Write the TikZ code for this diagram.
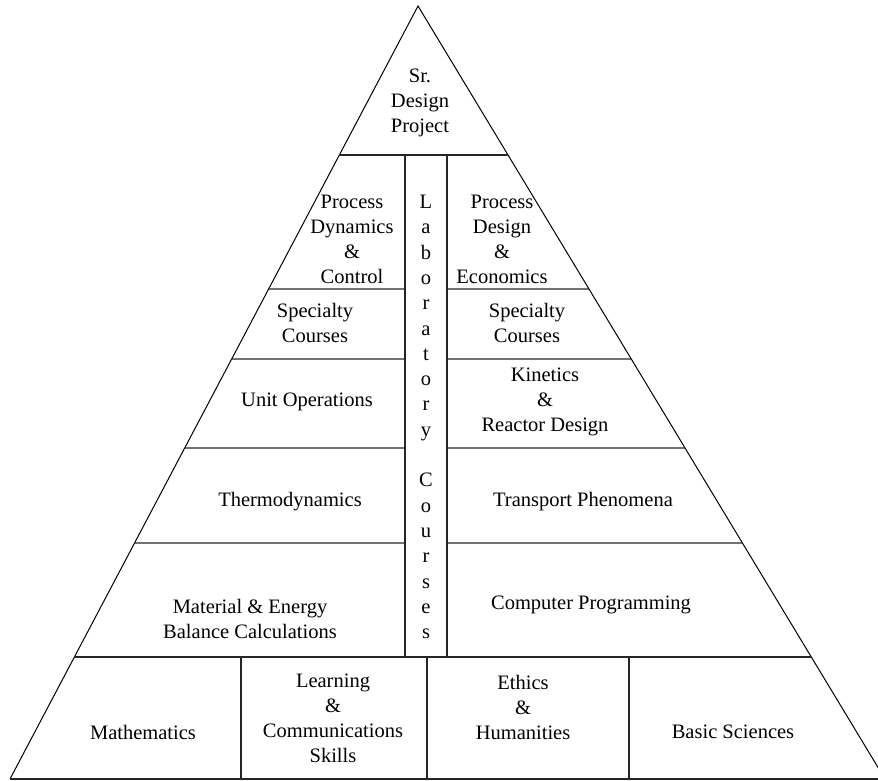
\documentclass[tikz,border=0pt]{standalone}
\usepackage{fontspec}
\setmainfont{Liberation Serif}
\usetikzlibrary{calc}

\begin{document}
\begin{tikzpicture}[
    x=1pt, y=-1pt,
    lbl/.style={align=center, inner sep=0pt, font=\fontsize{20.5}{25}\selectfont},
    rule/.style={line width=1.4pt, black!85},
    side/.style={line width=1pt, black},
]
\useasboundingbox (0,0) rectangle (878,781);
\coordinate (apex)  at (418,6);
\coordinate (baseL) at (10,779);
\coordinate (baseR) at (885,779);

% outline of the pyramid
\draw[side] (baseL) -- (apex) -- (baseR);
\draw[rule] (baseL) -- (baseR);

% full-width levels
\foreach \yy in {155,657} {
  \pgfmathsetmacro\fr{(\yy-6)/773}
  \draw[rule] ($(apex)!\fr!(baseL)$) -- ($(apex)!\fr!(baseR)$);
}
% levels split by the lab column
\foreach \yy in {289,359,448,543} {
  \pgfmathsetmacro\fr{(\yy-6)/773}
  \draw[rule] ($(apex)!\fr!(baseL)$) -- (405,\yy);
  \draw[rule] (447,\yy) -- ($(apex)!\fr!(baseR)$);
}
\draw[rule] (405,155) -- (405,657);
\draw[rule] (447,155) -- (447,657);
\foreach \xx in {241,427,629}
  \draw[rule] (\xx,657) -- (\xx,779);

\node[lbl] (senior)  at (420,103)   {Sr.\\Design\\Project};
\node[lbl] (pdc)     at (352,239.5) {Process\\Dynamics\\\&\\Control};
\node[lbl] (pde)     at (502,239.5) {Process\\Design\\\&\\Economics};
\node[lbl] (specL)   at (315,322.5) {Specialty\\Courses};
\node[lbl] (specR)   at (527,322.5) {Specialty\\Courses};
\node[lbl] (unitops) at (307,402)   {Unit Operations};
\node[lbl] (kinetic) at (545,402)   {Kinetics\\\&\\Reactor Design};
\node[lbl] (thermo)  at (290,502)   {Thermodynamics};
\node[lbl] (transp)  at (583,502)   {Transport Phenomena};
\node[lbl] (mebc)    at (250,618.5) {Material \& Energy\\Balance Calculations};
\node[lbl] (comp)    at (591,605)   {Computer Programming};
\node[lbl] (math)    at (143,732)   {Mathematics};
\node[lbl] (learn)   at (333,718.5) {Learning\\\&\\Communications\\Skills};
\node[lbl] (ethics)  at (523,707)   {Ethics\\\&\\Humanities};
\node[lbl] (basic)   at (733,732)   {Basic Sciences};
\node[lbl, font=\fontsize{20.5}{25.3}\selectfont] (lab) at (426,417)
  {L\\a\\b\\o\\r\\a\\t\\o\\r\\y\\[25.3pt]C\\o\\u\\r\\s\\e\\s};
\end{tikzpicture}
\end{document}
